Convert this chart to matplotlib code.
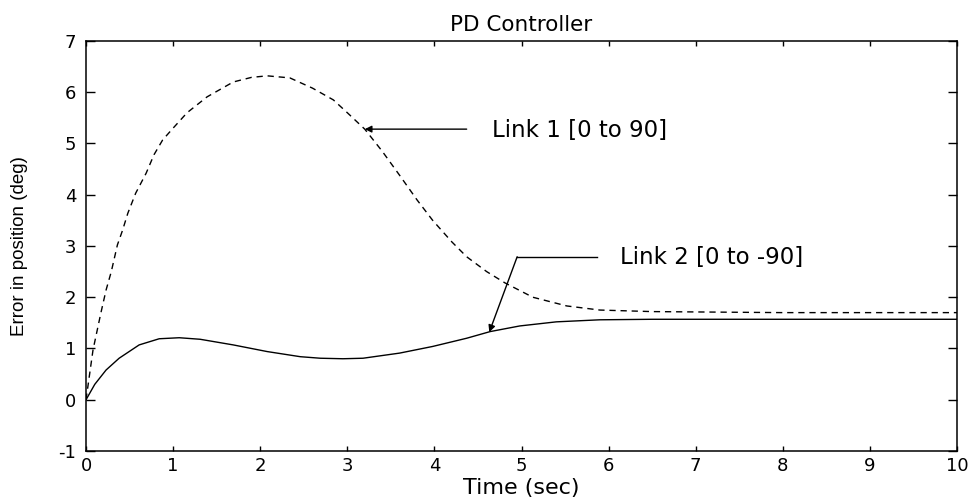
import matplotlib
matplotlib.use("Agg")
import matplotlib.pyplot as plt

# link 1 (dashed) error
t1 = [0, 0.08, 0.17, 0.23, 0.29, 0.36, 0.42, 0.48, 0.57, 0.69, 0.78, 0.88, 1.0,
      1.16, 1.39, 1.69, 1.9, 2.08, 2.34, 2.6, 2.84, 3.0, 3.2, 3.4, 3.6, 3.8, 3.98,
      4.2, 4.37, 4.6, 4.81, 5.13, 5.52, 5.9, 6.5, 7.24, 8, 9, 10]
e1 = [0, 0.97, 1.69, 2.14, 2.5, 3.02, 3.31, 3.64, 4.03, 4.42, 4.78, 5.07, 5.3,
      5.6, 5.91, 6.2, 6.29, 6.32, 6.28, 6.08, 5.85, 5.6, 5.28, 4.85, 4.38, 3.9, 3.5,
      3.08, 2.79, 2.5, 2.28, 2.0, 1.83, 1.75, 1.72, 1.71, 1.7, 1.7, 1.7]

# link 2 (solid) error
t2 = [0, 0.1, 0.23, 0.38, 0.61, 0.84, 1.07, 1.31, 1.69, 2.08, 2.46, 2.69, 2.95,
      3.18, 3.6, 3.98, 4.37, 4.64, 4.98, 5.4, 5.9, 6.5, 7, 8, 9, 10]
e2 = [0, 0.3, 0.58, 0.81, 1.07, 1.19, 1.21, 1.18, 1.07, 0.94, 0.84, 0.81, 0.80,
      0.81, 0.91, 1.04, 1.2, 1.33, 1.44, 1.52, 1.56, 1.57, 1.57, 1.57, 1.57, 1.57]

xticks = list(range(0, 11))
yticks = list(range(-1, 8))

fig = plt.figure(figsize=(9.71, 5.01), dpi=100)
ax = fig.add_axes([0.0886, 0.0998, 0.897, 0.8184])

ax.plot(t1, e1, color="black", lw=1.0, dashes=(4.5, 3.5))
ax.plot(t2, e2, color="black", lw=1.0)

ax.set_xlim(0, 10)
ax.set_ylim(-1, 7)
ax.set_xticks(xticks)
ax.set_yticks(yticks)

tickfont = dict(family="DejaVu Sans", size=13)
ax.set_xticklabels([str(v) for v in xticks], **tickfont)
ax.set_yticklabels([str(v) for v in yticks], **tickfont)
ax.tick_params(axis="x", direction="in", top=True, length=3.6, width=1, pad=4.5)
ax.tick_params(axis="y", direction="in", right=True, length=6.5, width=1, pad=7)
for s in ax.spines.values():
    s.set_linewidth(1.1)

ax.set_title("PD Controller", family="DejaVu Sans", size=15.5, pad=7)
ax.set_xlabel("Time (sec)", family="DejaVu Sans", size=16, labelpad=2)
ax.set_ylabel("Error in position (deg)", family="Liberation Sans", size=13.5)
ax.yaxis.set_label_coords(-0.067, 0.5)

arrow = dict(arrowstyle="-|>", color="black", lw=1.0, mutation_scale=10,
             shrinkA=0, shrinkB=0)

# link 1 annotation
ax.annotate("", xy=(3.2, 5.28), xytext=(4.37, 5.28), arrowprops=arrow)
ax.text(4.66, 5.26, "Link 1 [0 to 90]", family="DejaVu Sans", size=16.5, va="center")

# link 2 annotation
ax.plot([4.95, 5.87], [2.79, 2.79], color="black", lw=1.0)
ax.annotate("", xy=(4.63, 1.32), xytext=(4.95, 2.79), arrowprops=arrow)
ax.text(6.13, 2.78, "Link 2 [0 to -90]", family="DejaVu Sans", size=16.5, va="center")

fig.savefig("out.png", dpi=100)
